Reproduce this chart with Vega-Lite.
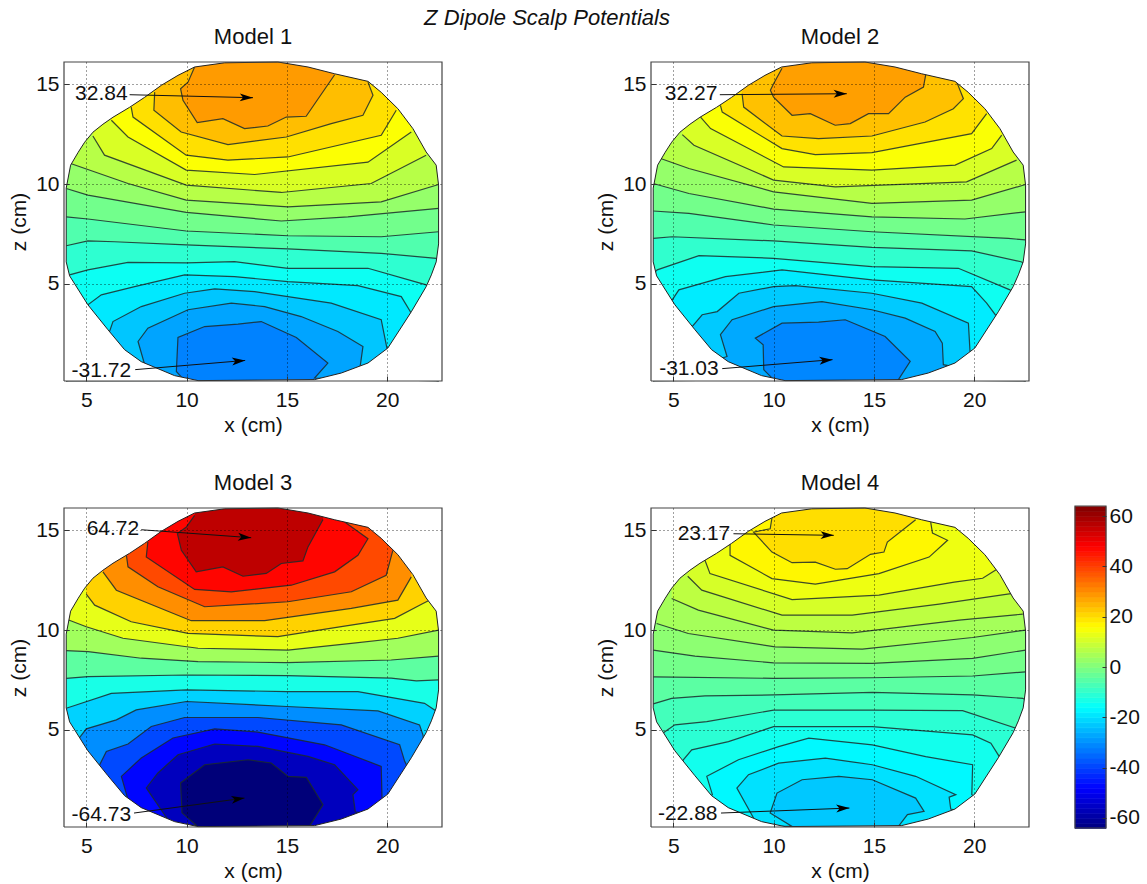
{"$schema":"https://vega.github.io/schema/vega-lite/v6.json","background":"white","padding":{"left":8,"top":6,"right":5,"bottom":5},"config":{"font":"Liberation Sans","view":{"stroke":null},"axis":{"labelFontSize":21,"labelColor":"#111","titleFontSize":21,"titleFontWeight":"normal","titleColor":"#111","domain":false,"labelFont":"Liberation Sans","titleFont":"Liberation Sans"}},"title":{"text":"Z Dipole Scalp Potentials","fontStyle":"italic","fontWeight":"normal","fontSize":22,"color":"#111","anchor":"middle","dx":-27,"dy":4,"offset":0},"datasets":{"bar":[{"v":-63},{"v":-61},{"v":-59},{"v":-57},{"v":-55},{"v":-53},{"v":-51},{"v":-49},{"v":-47},{"v":-45},{"v":-43},{"v":-41},{"v":-39},{"v":-37},{"v":-35},{"v":-33},{"v":-31},{"v":-29},{"v":-27},{"v":-25},{"v":-23},{"v":-21},{"v":-19},{"v":-17},{"v":-15},{"v":-13},{"v":-11},{"v":-9},{"v":-7},{"v":-5},{"v":-3},{"v":-1},{"v":1},{"v":3},{"v":5},{"v":7},{"v":9},{"v":11},{"v":13},{"v":15},{"v":17},{"v":19},{"v":21},{"v":23},{"v":25},{"v":27},{"v":29},{"v":31},{"v":33},{"v":35},{"v":37},{"v":39},{"v":41},{"v":43},{"v":45},{"v":47},{"v":49},{"v":51},{"v":53},{"v":55},{"v":57},{"v":59},{"v":61},{"v":63}],"maps":[
{"model":1,"band":0,"v":-31.7,"x":4,"z":0.13},{"model":1,"band":0,"v":-31.7,"x":22.56,"z":0.13},
{"model":1,"band":1,"v":-27.4,"x":4,"z":0.13},{"model":1,"band":1,"v":-27.4,"x":9.9,"z":0.15},{"model":1,"band":1,"v":-27.4,"x":9.49,"z":0.61},{"model":1,"band":1,"v":-27.4,"x":9.57,"z":2.31},{"model":1,"band":1,"v":-27.4,"x":10.9,"z":2.86},{"model":1,"band":1,"v":-27.4,"x":12.56,"z":2.98},{"model":1,"band":1,"v":-27.4,"x":13.72,"z":3.11},{"model":1,"band":1,"v":-27.4,"x":15.47,"z":2.31},{"model":1,"band":1,"v":-27.4,"x":17.04,"z":1.03},{"model":1,"band":1,"v":-27.4,"x":16.38,"z":0.28},{"model":1,"band":1,"v":-27.4,"x":22.56,"z":0.13},
{"model":1,"band":2,"v":-23.1,"x":4,"z":0.13},{"model":1,"band":2,"v":-23.1,"x":7.91,"z":0.95},{"model":1,"band":2,"v":-23.1,"x":7.58,"z":2.11},{"model":1,"band":2,"v":-23.1,"x":8.07,"z":2.78},{"model":1,"band":2,"v":-23.1,"x":10.07,"z":3.7},{"model":1,"band":2,"v":-23.1,"x":12.23,"z":4.03},{"model":1,"band":2,"v":-23.1,"x":13.89,"z":3.86},{"model":1,"band":2,"v":-23.1,"x":15.71,"z":3.36},{"model":1,"band":2,"v":-23.1,"x":17.54,"z":2.61},{"model":1,"band":2,"v":-23.1,"x":18.79,"z":1.86},{"model":1,"band":2,"v":-23.1,"x":18.65,"z":0.85},{"model":1,"band":2,"v":-23.1,"x":22.56,"z":0.13},
{"model":1,"band":3,"v":-18.8,"x":4,"z":0.13},{"model":1,"band":3,"v":-18.8,"x":6.16,"z":2.61},{"model":1,"band":3,"v":-18.8,"x":6.33,"z":3.11},{"model":1,"band":3,"v":-18.8,"x":7.74,"z":3.86},{"model":1,"band":3,"v":-18.8,"x":9.9,"z":4.53},{"model":1,"band":3,"v":-18.8,"x":11.4,"z":4.75},{"model":1,"band":3,"v":-18.8,"x":13.39,"z":4.61},{"model":1,"band":3,"v":-18.8,"x":15.05,"z":4.36},{"model":1,"band":3,"v":-18.8,"x":17.21,"z":4.03},{"model":1,"band":3,"v":-18.8,"x":19.7,"z":3.2},{"model":1,"band":3,"v":-18.8,"x":20,"z":1.7},{"model":1,"band":3,"v":-18.8,"x":22.56,"z":0.13},
{"model":1,"band":4,"v":-14.5,"x":4,"z":0.13},{"model":1,"band":4,"v":-14.5,"x":5.08,"z":3.95},{"model":1,"band":4,"v":-14.5,"x":5.75,"z":4.45},{"model":1,"band":4,"v":-14.5,"x":7.41,"z":4.86},{"model":1,"band":4,"v":-14.5,"x":9.9,"z":5.45},{"model":1,"band":4,"v":-14.5,"x":12.39,"z":5.36},{"model":1,"band":4,"v":-14.5,"x":15.05,"z":5.11},{"model":1,"band":4,"v":-14.5,"x":18.54,"z":4.91},{"model":1,"band":4,"v":-14.5,"x":20.7,"z":4.36},{"model":1,"band":4,"v":-14.5,"x":21.2,"z":3.53},{"model":1,"band":4,"v":-14.5,"x":22.56,"z":0.13},
{"model":1,"band":5,"v":-10.2,"x":4,"z":5.3},{"model":1,"band":5,"v":-10.2,"x":4.17,"z":5.45},{"model":1,"band":5,"v":-10.2,"x":5.08,"z":5.7},{"model":1,"band":5,"v":-10.2,"x":7.08,"z":6.08},{"model":1,"band":5,"v":-10.2,"x":10,"z":6.05},{"model":1,"band":5,"v":-10.2,"x":12.39,"z":6.11},{"model":1,"band":5,"v":-10.2,"x":15.05,"z":5.78},{"model":1,"band":5,"v":-10.2,"x":19.04,"z":5.78},{"model":1,"band":5,"v":-10.2,"x":21.94,"z":4.95},{"model":1,"band":5,"v":-10.2,"x":22.56,"z":4},
{"model":1,"band":6,"v":-5.9,"x":4,"z":6.91},{"model":1,"band":6,"v":-5.9,"x":5.08,"z":7.15},{"model":1,"band":6,"v":-5.9,"x":6.41,"z":7.11},{"model":1,"band":6,"v":-5.9,"x":9.98,"z":6.95},{"model":1,"band":6,"v":-5.9,"x":15.05,"z":6.75},{"model":1,"band":6,"v":-5.9,"x":19.7,"z":6.53},{"model":1,"band":6,"v":-5.9,"x":22.44,"z":6.28},{"model":1,"band":6,"v":-5.9,"x":22.56,"z":6.2},
{"model":1,"band":7,"v":-1.6,"x":4,"z":8.36},{"model":1,"band":7,"v":-1.6,"x":5.08,"z":8.25},{"model":1,"band":7,"v":-1.6,"x":9.98,"z":7.65},{"model":1,"band":7,"v":-1.6,"x":15.05,"z":7.41},{"model":1,"band":7,"v":-1.6,"x":19.7,"z":7.36},{"model":1,"band":7,"v":-1.6,"x":22.56,"z":7.61},
{"model":1,"band":8,"v":2.7,"x":4,"z":9.78},{"model":1,"band":8,"v":2.7,"x":5.08,"z":9.45},{"model":1,"band":8,"v":2.7,"x":9.98,"z":8.58},{"model":1,"band":8,"v":2.7,"x":14.72,"z":8.15},{"model":1,"band":8,"v":2.7,"x":18.04,"z":8.36},{"model":1,"band":8,"v":2.7,"x":22.56,"z":8.78},
{"model":1,"band":9,"v":7,"x":4.22,"z":11.03},{"model":1,"band":9,"v":7,"x":7.08,"z":10.03},{"model":1,"band":9,"v":7,"x":9.98,"z":9.2},{"model":1,"band":9,"v":7,"x":15.05,"z":8.86},{"model":1,"band":9,"v":7,"x":19.7,"z":9.11},{"model":1,"band":9,"v":7,"x":22.56,"z":9.98},
{"model":1,"band":10,"v":11.3,"x":5.33,"z":12.41},{"model":1,"band":10,"v":11.3,"x":5.91,"z":11.45},{"model":1,"band":10,"v":11.3,"x":9.98,"z":9.95},{"model":1,"band":10,"v":11.3,"x":14.72,"z":9.58},{"model":1,"band":10,"v":11.3,"x":19.2,"z":10.03},{"model":1,"band":10,"v":11.3,"x":21.94,"z":11.45},
{"model":1,"band":11,"v":15.6,"x":6.25,"z":13.2},{"model":1,"band":11,"v":15.6,"x":7.08,"z":12.36},{"model":1,"band":11,"v":15.6,"x":9.98,"z":10.7},{"model":1,"band":11,"v":15.6,"x":13.39,"z":10.48},{"model":1,"band":11,"v":15.6,"x":19.04,"z":11.1},{"model":1,"band":11,"v":15.6,"x":21.2,"z":12.61},
{"model":1,"band":12,"v":19.9,"x":7.24,"z":13.86},{"model":1,"band":12,"v":19.9,"x":7.33,"z":13.36},{"model":1,"band":12,"v":19.9,"x":9.98,"z":11.45},{"model":1,"band":12,"v":19.9,"x":12.06,"z":11.2},{"model":1,"band":12,"v":19.9,"x":15.05,"z":11.36},{"model":1,"band":12,"v":19.9,"x":19.7,"z":12.45},{"model":1,"band":12,"v":19.9,"x":20.45,"z":13.7},
{"model":1,"band":13,"v":24.2,"x":8.41,"z":14.61},{"model":1,"band":13,"v":24.2,"x":8.37,"z":13.7},{"model":1,"band":13,"v":24.2,"x":9.73,"z":12.61},{"model":1,"band":13,"v":24.2,"x":12.06,"z":11.98},{"model":1,"band":13,"v":24.2,"x":14.97,"z":12.36},{"model":1,"band":13,"v":24.2,"x":17.21,"z":13.03},{"model":1,"band":13,"v":24.2,"x":18.79,"z":13.45},{"model":1,"band":13,"v":24.2,"x":19.29,"z":14.45},{"model":1,"band":13,"v":24.2,"x":19.04,"z":15.11},
{"model":1,"band":14,"v":28.5,"x":10.4,"z":15.87},{"model":1,"band":14,"v":28.5,"x":10.07,"z":15.11},{"model":1,"band":14,"v":28.5,"x":9.7,"z":14.78},{"model":1,"band":14,"v":28.5,"x":9.82,"z":14.2},{"model":1,"band":14,"v":28.5,"x":10.53,"z":13.08},{"model":1,"band":14,"v":28.5,"x":11.81,"z":13.28},{"model":1,"band":14,"v":28.5,"x":12.89,"z":12.78},{"model":1,"band":14,"v":28.5,"x":14.05,"z":12.91},{"model":1,"band":14,"v":28.5,"x":14.97,"z":13.36},{"model":1,"band":14,"v":28.5,"x":15.96,"z":13.4},{"model":1,"band":14,"v":28.5,"x":17.38,"z":15.48},
{"model":2,"band":0,"v":-31,"x":4,"z":0.13},{"model":2,"band":0,"v":-31,"x":22.56,"z":0.13},
{"model":2,"band":1,"v":-26.8,"x":4,"z":0.13},{"model":2,"band":1,"v":-26.8,"x":10,"z":0.2},{"model":2,"band":1,"v":-26.8,"x":9.51,"z":0.7},{"model":2,"band":1,"v":-26.8,"x":9.48,"z":1.95},{"model":2,"band":1,"v":-26.8,"x":9.09,"z":2.28},{"model":2,"band":1,"v":-26.8,"x":10.42,"z":3.03},{"model":2,"band":1,"v":-26.8,"x":12.24,"z":3.08},{"model":2,"band":1,"v":-26.8,"x":13.57,"z":3.2},{"model":2,"band":1,"v":-26.8,"x":15.56,"z":2.36},{"model":2,"band":1,"v":-26.8,"x":16.81,"z":1.11},{"model":2,"band":1,"v":-26.8,"x":16.22,"z":0.2},{"model":2,"band":1,"v":-26.8,"x":22.56,"z":0.13},
{"model":2,"band":2,"v":-22.6,"x":4,"z":0.13},{"model":2,"band":2,"v":-22.6,"x":7.68,"z":1.36},{"model":2,"band":2,"v":-22.6,"x":7.35,"z":2.45},{"model":2,"band":2,"v":-22.6,"x":7.93,"z":3.2},{"model":2,"band":2,"v":-22.6,"x":10,"z":3.86},{"model":2,"band":2,"v":-22.6,"x":12.41,"z":4.11},{"model":2,"band":2,"v":-22.6,"x":14.9,"z":3.7},{"model":2,"band":2,"v":-22.6,"x":16.56,"z":3.28},{"model":2,"band":2,"v":-22.6,"x":18.05,"z":2.61},{"model":2,"band":2,"v":-22.6,"x":18.41,"z":2.03},{"model":2,"band":2,"v":-22.6,"x":18.46,"z":0.95},{"model":2,"band":2,"v":-22.6,"x":22.56,"z":0.13},
{"model":2,"band":3,"v":-18.4,"x":4,"z":0.13},{"model":2,"band":3,"v":-18.4,"x":5.94,"z":2.86},{"model":2,"band":3,"v":-18.4,"x":6.44,"z":3.45},{"model":2,"band":3,"v":-18.4,"x":7.19,"z":3.61},{"model":2,"band":3,"v":-18.4,"x":8.27,"z":4.53},{"model":2,"band":3,"v":-18.4,"x":10,"z":4.86},{"model":2,"band":3,"v":-18.4,"x":11.08,"z":4.91},{"model":2,"band":3,"v":-18.4,"x":14.9,"z":4.53},{"model":2,"band":3,"v":-18.4,"x":17.39,"z":4.03},{"model":2,"band":3,"v":-18.4,"x":19.71,"z":3.03},{"model":2,"band":3,"v":-18.4,"x":19.79,"z":1.61},{"model":2,"band":3,"v":-18.4,"x":22.56,"z":0.13},
{"model":2,"band":4,"v":-14.2,"x":4,"z":0.13},{"model":2,"band":4,"v":-14.2,"x":4.95,"z":4.2},{"model":2,"band":4,"v":-14.2,"x":5.28,"z":4.7},{"model":2,"band":4,"v":-14.2,"x":7.6,"z":5.36},{"model":2,"band":4,"v":-14.2,"x":10.42,"z":5.7},{"model":2,"band":4,"v":-14.2,"x":14.9,"z":5.2},{"model":2,"band":4,"v":-14.2,"x":19.87,"z":4.86},{"model":2,"band":4,"v":-14.2,"x":20.62,"z":4.03},{"model":2,"band":4,"v":-14.2,"x":21.12,"z":3.36},{"model":2,"band":4,"v":-14.2,"x":22.56,"z":0.13},
{"model":2,"band":5,"v":-9.9,"x":4,"z":5.5},{"model":2,"band":5,"v":-9.9,"x":4.2,"z":5.7},{"model":2,"band":5,"v":-9.9,"x":6.28,"z":6.41},{"model":2,"band":5,"v":-9.9,"x":10,"z":6.28},{"model":2,"band":5,"v":-9.9,"x":14.9,"z":5.86},{"model":2,"band":5,"v":-9.9,"x":19.21,"z":5.78},{"model":2,"band":5,"v":-9.9,"x":21.78,"z":4.7},{"model":2,"band":5,"v":-9.9,"x":22.56,"z":4},
{"model":2,"band":6,"v":-5.7,"x":4,"z":7.28},{"model":2,"band":6,"v":-5.7,"x":4.95,"z":7.36},{"model":2,"band":6,"v":-5.7,"x":10,"z":7.15},{"model":2,"band":6,"v":-5.7,"x":14.9,"z":6.83},{"model":2,"band":6,"v":-5.7,"x":19.87,"z":6.65},{"model":2,"band":6,"v":-5.7,"x":22.33,"z":6.11},{"model":2,"band":6,"v":-5.7,"x":22.56,"z":6},
{"model":2,"band":7,"v":-1.5,"x":4,"z":8.65},{"model":2,"band":7,"v":-1.5,"x":5.78,"z":8.53},{"model":2,"band":7,"v":-1.5,"x":10,"z":7.95},{"model":2,"band":7,"v":-1.5,"x":14.9,"z":7.61},{"model":2,"band":7,"v":-1.5,"x":21.7,"z":7.28},{"model":2,"band":7,"v":-1.5,"x":22.56,"z":7.2},
{"model":2,"band":8,"v":2.7,"x":4,"z":10.03},{"model":2,"band":8,"v":2.7,"x":5.78,"z":9.53},{"model":2,"band":8,"v":2.7,"x":10,"z":8.75},{"model":2,"band":8,"v":2.7,"x":14.9,"z":8.36},{"model":2,"band":8,"v":2.7,"x":19.54,"z":8.25},{"model":2,"band":8,"v":2.7,"x":22.56,"z":8.61},
{"model":2,"band":9,"v":7,"x":4.37,"z":11.28},{"model":2,"band":9,"v":7,"x":5.78,"z":10.78},{"model":2,"band":9,"v":7,"x":10,"z":9.61},{"model":2,"band":9,"v":7,"x":14.9,"z":9.03},{"model":2,"band":9,"v":7,"x":19.87,"z":9.2},{"model":2,"band":9,"v":7,"x":22.56,"z":9.98},
{"model":2,"band":10,"v":11.2,"x":5.45,"z":12.48},{"model":2,"band":10,"v":11.2,"x":6.03,"z":11.95},{"model":2,"band":10,"v":11.2,"x":10,"z":10.2},{"model":2,"band":10,"v":11.2,"x":13.07,"z":9.86},{"model":2,"band":10,"v":11.2,"x":19.62,"z":10.11},{"model":2,"band":10,"v":11.2,"x":22.11,"z":11.2},
{"model":2,"band":11,"v":15.4,"x":6.36,"z":13.36},{"model":2,"band":11,"v":15.4,"x":6.86,"z":12.78},{"model":2,"band":11,"v":15.4,"x":10.5,"z":10.86},{"model":2,"band":11,"v":15.4,"x":14.9,"z":10.7},{"model":2,"band":11,"v":15.4,"x":19.05,"z":10.95},{"model":2,"band":11,"v":15.4,"x":20.87,"z":11.78},{"model":2,"band":11,"v":15.4,"x":21.37,"z":12.45},
{"model":2,"band":12,"v":19.6,"x":7.35,"z":13.95},{"model":2,"band":12,"v":19.6,"x":7.44,"z":13.61},{"model":2,"band":12,"v":19.6,"x":10.42,"z":11.78},{"model":2,"band":12,"v":19.6,"x":12.08,"z":11.48},{"model":2,"band":12,"v":19.6,"x":14.9,"z":11.58},{"model":2,"band":12,"v":19.6,"x":19.87,"z":12.53},{"model":2,"band":12,"v":19.6,"x":20.62,"z":13.53},
{"model":2,"band":13,"v":23.8,"x":8.43,"z":14.53},{"model":2,"band":13,"v":23.8,"x":8.51,"z":13.86},{"model":2,"band":13,"v":23.8,"x":10.42,"z":12.41},{"model":2,"band":13,"v":23.8,"x":12.24,"z":12.28},{"model":2,"band":13,"v":23.8,"x":14.9,"z":12.41},{"model":2,"band":13,"v":23.8,"x":17.55,"z":13.11},{"model":2,"band":13,"v":23.8,"x":18.96,"z":13.78},{"model":2,"band":13,"v":23.8,"x":19.46,"z":14.28},{"model":2,"band":13,"v":23.8,"x":19.13,"z":15.11},
{"model":2,"band":14,"v":28.1,"x":10.42,"z":15.81},{"model":2,"band":14,"v":28.1,"x":10,"z":15.03},{"model":2,"band":14,"v":28.1,"x":9.84,"z":14.7},{"model":2,"band":14,"v":28.1,"x":10,"z":14.36},{"model":2,"band":14,"v":28.1,"x":10.92,"z":13.45},{"model":2,"band":14,"v":28.1,"x":11.83,"z":13.53},{"model":2,"band":14,"v":28.1,"x":13.07,"z":12.95},{"model":2,"band":14,"v":28.1,"x":13.82,"z":13.03},{"model":2,"band":14,"v":28.1,"x":14.73,"z":13.53},{"model":2,"band":14,"v":28.1,"x":15.73,"z":13.53},{"model":2,"band":14,"v":28.1,"x":16.56,"z":14.36},{"model":2,"band":14,"v":28.1,"x":17.47,"z":14.86},{"model":2,"band":14,"v":28.1,"x":17.59,"z":15.53},
{"model":3,"band":0,"v":-64.7,"x":4,"z":0.16},{"model":3,"band":0,"v":-64.7,"x":22.56,"z":0.16},
{"model":3,"band":1,"v":-56.1,"x":4,"z":0.16},{"model":3,"band":1,"v":-56.1,"x":10.48,"z":0.22},{"model":3,"band":1,"v":-56.1,"x":9.77,"z":0.84},{"model":3,"band":1,"v":-56.1,"x":9.7,"z":2.34},{"model":3,"band":1,"v":-56.1,"x":10.9,"z":3.25},{"model":3,"band":1,"v":-56.1,"x":13.06,"z":3.5},{"model":3,"band":1,"v":-56.1,"x":14.22,"z":3.34},{"model":3,"band":1,"v":-56.1,"x":15.05,"z":2.67},{"model":3,"band":1,"v":-56.1,"x":15.97,"z":2.62},{"model":3,"band":1,"v":-56.1,"x":16.8,"z":1.25},{"model":3,"band":1,"v":-56.1,"x":16.13,"z":0.17},{"model":3,"band":1,"v":-56.1,"x":22.56,"z":0.16},
{"model":3,"band":2,"v":-47.4,"x":4,"z":0.16},{"model":3,"band":2,"v":-47.4,"x":9.07,"z":0.5},{"model":3,"band":2,"v":-47.4,"x":7.99,"z":2.09},{"model":3,"band":2,"v":-47.4,"x":8.57,"z":2.84},{"model":3,"band":2,"v":-47.4,"x":9.57,"z":3.75},{"model":3,"band":2,"v":-47.4,"x":11.4,"z":4.29},{"model":3,"band":2,"v":-47.4,"x":13.56,"z":4.17},{"model":3,"band":2,"v":-47.4,"x":16.05,"z":3.67},{"model":3,"band":2,"v":-47.4,"x":17.38,"z":3.25},{"model":3,"band":2,"v":-47.4,"x":18.54,"z":2},{"model":3,"band":2,"v":-47.4,"x":18.29,"z":1.75},{"model":3,"band":2,"v":-47.4,"x":18.41,"z":0.89},{"model":3,"band":2,"v":-47.4,"x":22.56,"z":0.16},
{"model":3,"band":3,"v":-38.8,"x":4,"z":0.16},{"model":3,"band":3,"v":-38.8,"x":7.08,"z":1.5},{"model":3,"band":3,"v":-38.8,"x":6.75,"z":2.67},{"model":3,"band":3,"v":-38.8,"x":7.74,"z":3.59},{"model":3,"band":3,"v":-38.8,"x":9.32,"z":4.59},{"model":3,"band":3,"v":-38.8,"x":11.4,"z":5.05},{"model":3,"band":3,"v":-38.8,"x":13.56,"z":4.89},{"model":3,"band":3,"v":-38.8,"x":16.88,"z":4.25},{"model":3,"band":3,"v":-38.8,"x":19.7,"z":3.17},{"model":3,"band":3,"v":-38.8,"x":19.74,"z":1.59},{"model":3,"band":3,"v":-38.8,"x":22.56,"z":0.16},
{"model":3,"band":4,"v":-30.2,"x":4,"z":0.16},{"model":3,"band":4,"v":-30.2,"x":5.67,"z":3.25},{"model":3,"band":4,"v":-30.2,"x":6,"z":3.92},{"model":3,"band":4,"v":-30.2,"x":7.08,"z":4.29},{"model":3,"band":4,"v":-30.2,"x":8.24,"z":5.17},{"model":3,"band":4,"v":-30.2,"x":9.9,"z":5.62},{"model":3,"band":4,"v":-30.2,"x":13.56,"z":5.62},{"model":3,"band":4,"v":-30.2,"x":17.71,"z":5.25},{"model":3,"band":4,"v":-30.2,"x":20.62,"z":4.25},{"model":3,"band":4,"v":-30.2,"x":20.87,"z":3.42},{"model":3,"band":4,"v":-30.2,"x":22.56,"z":0.16},
{"model":3,"band":5,"v":-21.6,"x":4,"z":0.16},{"model":3,"band":5,"v":-21.6,"x":4.67,"z":4.62},{"model":3,"band":5,"v":-21.6,"x":5,"z":5.05},{"model":3,"band":5,"v":-21.6,"x":6.5,"z":5.5},{"model":3,"band":5,"v":-21.6,"x":7.49,"z":6},{"model":3,"band":5,"v":-21.6,"x":9.99,"z":6.42},{"model":3,"band":5,"v":-21.6,"x":15,"z":6.17},{"model":3,"band":5,"v":-21.6,"x":19.54,"z":5.95},{"model":3,"band":5,"v":-21.6,"x":21.61,"z":5.25},{"model":3,"band":5,"v":-21.6,"x":21.78,"z":4.75},{"model":3,"band":5,"v":-21.6,"x":22.56,"z":0.16},
{"model":3,"band":6,"v":-13,"x":4,"z":6.08},{"model":3,"band":6,"v":-13,"x":4.42,"z":6.22},{"model":3,"band":6,"v":-13,"x":6.25,"z":6.83},{"model":3,"band":6,"v":-13,"x":9.99,"z":7},{"model":3,"band":6,"v":-13,"x":15,"z":6.92},{"model":3,"band":6,"v":-13,"x":18.54,"z":6.92},{"model":3,"band":6,"v":-13,"x":21.86,"z":6.33},{"model":3,"band":6,"v":-13,"x":22.36,"z":6},{"model":3,"band":6,"v":-13,"x":22.56,"z":5.8},
{"model":3,"band":7,"v":-4.3,"x":4,"z":7.58},{"model":3,"band":7,"v":-4.3,"x":5.09,"z":7.67},{"model":3,"band":7,"v":-4.3,"x":9.99,"z":7.75},{"model":3,"band":7,"v":-4.3,"x":15,"z":7.72},{"model":3,"band":7,"v":-4.3,"x":20.2,"z":7.59},{"model":3,"band":7,"v":-4.3,"x":21.45,"z":7.45},{"model":3,"band":7,"v":-4.3,"x":22.56,"z":7.5},
{"model":3,"band":8,"v":4.3,"x":4,"z":8.97},{"model":3,"band":8,"v":4.3,"x":5.09,"z":8.92},{"model":3,"band":8,"v":4.3,"x":7.74,"z":8.59},{"model":3,"band":8,"v":4.3,"x":10.57,"z":8.42},{"model":3,"band":8,"v":4.3,"x":15,"z":8.37},{"model":3,"band":8,"v":4.3,"x":20.2,"z":8.5},{"model":3,"band":8,"v":4.3,"x":22.56,"z":8.7},
{"model":3,"band":9,"v":13,"x":4,"z":10.55},{"model":3,"band":9,"v":13,"x":4.22,"z":10.47},{"model":3,"band":9,"v":13,"x":5,"z":10.17},{"model":3,"band":9,"v":13,"x":6.83,"z":9.59},{"model":3,"band":9,"v":13,"x":10.57,"z":9.09},{"model":3,"band":9,"v":13,"x":15.05,"z":9},{"model":3,"band":9,"v":13,"x":18.21,"z":9.33},{"model":3,"band":9,"v":13,"x":20.53,"z":9.59},{"model":3,"band":9,"v":13,"x":22.56,"z":10},
{"model":3,"band":10,"v":21.6,"x":5,"z":11.8},{"model":3,"band":10,"v":21.6,"x":5.42,"z":11.25},{"model":3,"band":10,"v":21.6,"x":7.24,"z":10.42},{"model":3,"band":10,"v":21.6,"x":10.07,"z":9.84},{"model":3,"band":10,"v":21.6,"x":14.55,"z":9.67},{"model":3,"band":10,"v":21.6,"x":17.71,"z":10.17},{"model":3,"band":10,"v":21.6,"x":20.37,"z":10.59},{"model":3,"band":10,"v":21.6,"x":21.78,"z":11.33},{"model":3,"band":10,"v":21.6,"x":22.1,"z":11.5},
{"model":3,"band":11,"v":30.2,"x":5.83,"z":12.92},{"model":3,"band":11,"v":30.2,"x":6.5,"z":12},{"model":3,"band":11,"v":30.2,"x":10.23,"z":10.47},{"model":3,"band":11,"v":30.2,"x":13.89,"z":10.47},{"model":3,"band":11,"v":30.2,"x":18.21,"z":11.09},{"model":3,"band":11,"v":30.2,"x":20.53,"z":11.5},{"model":3,"band":11,"v":30.2,"x":21.2,"z":12.67},
{"model":3,"band":12,"v":38.8,"x":7,"z":13.75},{"model":3,"band":12,"v":38.8,"x":7.08,"z":13.17},{"model":3,"band":12,"v":38.8,"x":8.57,"z":12.17},{"model":3,"band":12,"v":38.8,"x":10.9,"z":11.17},{"model":3,"band":12,"v":38.8,"x":15.05,"z":11.42},{"model":3,"band":12,"v":38.8,"x":18.21,"z":11.92},{"model":3,"band":12,"v":38.8,"x":19.95,"z":12.75},{"model":3,"band":12,"v":38.8,"x":20.28,"z":14},
{"model":3,"band":13,"v":47.4,"x":8.07,"z":14.42},{"model":3,"band":13,"v":47.4,"x":7.99,"z":13.67},{"model":3,"band":13,"v":47.4,"x":10.4,"z":12.04},{"model":3,"band":13,"v":47.4,"x":12.23,"z":11.92},{"model":3,"band":13,"v":47.4,"x":15.22,"z":12.25},{"model":3,"band":13,"v":47.4,"x":17.38,"z":12.92},{"model":3,"band":13,"v":47.4,"x":18.54,"z":13.75},{"model":3,"band":13,"v":47.4,"x":19.04,"z":14.58},{"model":3,"band":13,"v":47.4,"x":17.88,"z":15.42},
{"model":3,"band":14,"v":56.1,"x":10.4,"z":15.75},{"model":3,"band":14,"v":56.1,"x":9.99,"z":15.17},{"model":3,"band":14,"v":56.1,"x":9.54,"z":14.84},{"model":3,"band":14,"v":56.1,"x":9.74,"z":14},{"model":3,"band":14,"v":56.1,"x":10.48,"z":12.92},{"model":3,"band":14,"v":56.1,"x":11.81,"z":13.17},{"model":3,"band":14,"v":56.1,"x":12.81,"z":12.7},{"model":3,"band":14,"v":56.1,"x":13.97,"z":12.84},{"model":3,"band":14,"v":56.1,"x":14.72,"z":13.34},{"model":3,"band":14,"v":56.1,"x":15.8,"z":13.47},{"model":3,"band":14,"v":56.1,"x":16.05,"z":14.17},{"model":3,"band":14,"v":56.1,"x":16.8,"z":15.54},
{"model":4,"band":0,"v":-22.9,"x":4,"z":0.16},{"model":4,"band":0,"v":-22.9,"x":22.56,"z":0.16},
{"model":4,"band":1,"v":-19.8,"x":4,"z":0.16},{"model":4,"band":1,"v":-19.8,"x":10.92,"z":0.16},{"model":4,"band":1,"v":-19.8,"x":9.83,"z":0.83},{"model":4,"band":1,"v":-19.8,"x":10.17,"z":1.83},{"model":4,"band":1,"v":-19.8,"x":11.42,"z":2.5},{"model":4,"band":1,"v":-19.8,"x":13.25,"z":2.67},{"model":4,"band":1,"v":-19.8,"x":14.92,"z":2.5},{"model":4,"band":1,"v":-19.8,"x":17.08,"z":1.58},{"model":4,"band":1,"v":-19.8,"x":17.5,"z":0.91},{"model":4,"band":1,"v":-19.8,"x":16.67,"z":0.75},{"model":4,"band":1,"v":-19.8,"x":16.25,"z":0.2},{"model":4,"band":1,"v":-19.8,"x":22.56,"z":0.16},
{"model":4,"band":2,"v":-16.7,"x":4,"z":0.16},{"model":4,"band":2,"v":-16.7,"x":9,"z":0.58},{"model":4,"band":2,"v":-16.7,"x":8.17,"z":2.08},{"model":4,"band":2,"v":-16.7,"x":8.75,"z":2.75},{"model":4,"band":2,"v":-16.7,"x":10.25,"z":3.33},{"model":4,"band":2,"v":-16.7,"x":12.58,"z":3.58},{"model":4,"band":2,"v":-16.7,"x":14.92,"z":3.25},{"model":4,"band":2,"v":-16.7,"x":17.08,"z":2.67},{"model":4,"band":2,"v":-16.7,"x":19.08,"z":1.75},{"model":4,"band":2,"v":-16.7,"x":18.75,"z":1.63},{"model":4,"band":2,"v":-16.7,"x":18.83,"z":1.03},{"model":4,"band":2,"v":-16.7,"x":22.56,"z":0.16},
{"model":4,"band":3,"v":-13.7,"x":4,"z":0.16},{"model":4,"band":3,"v":-13.7,"x":6.95,"z":1.75},{"model":4,"band":3,"v":-13.7,"x":6.67,"z":2.67},{"model":4,"band":3,"v":-13.7,"x":8.25,"z":3.5},{"model":4,"band":3,"v":-13.7,"x":10.25,"z":4.16},{"model":4,"band":3,"v":-13.7,"x":11.75,"z":4.58},{"model":4,"band":3,"v":-13.7,"x":14.92,"z":4.25},{"model":4,"band":3,"v":-13.7,"x":17.58,"z":3.66},{"model":4,"band":3,"v":-13.7,"x":19.92,"z":3.25},{"model":4,"band":3,"v":-13.7,"x":19.88,"z":1.75},{"model":4,"band":3,"v":-13.7,"x":22.56,"z":0.16},
{"model":4,"band":4,"v":-10.6,"x":4,"z":0.16},{"model":4,"band":4,"v":-10.6,"x":5.5,"z":3.5},{"model":4,"band":4,"v":-10.6,"x":5.92,"z":4},{"model":4,"band":4,"v":-10.6,"x":7.75,"z":4.41},{"model":4,"band":4,"v":-10.6,"x":10,"z":5.16},{"model":4,"band":4,"v":-10.6,"x":14.92,"z":5.16},{"model":4,"band":4,"v":-10.6,"x":19.92,"z":4.75},{"model":4,"band":4,"v":-10.6,"x":20.83,"z":4.33},{"model":4,"band":4,"v":-10.6,"x":21.25,"z":3.66},{"model":4,"band":4,"v":-10.6,"x":22.56,"z":0.16},
{"model":4,"band":5,"v":-7.5,"x":4,"z":4.3},{"model":4,"band":5,"v":-7.5,"x":4.58,"z":4.91},{"model":4,"band":5,"v":-7.5,"x":5.08,"z":5.25},{"model":4,"band":5,"v":-7.5,"x":6.67,"z":5.41},{"model":4,"band":5,"v":-7.5,"x":10,"z":5.99},{"model":4,"band":5,"v":-7.5,"x":14.92,"z":5.99},{"model":4,"band":5,"v":-7.5,"x":19.42,"z":5.96},{"model":4,"band":5,"v":-7.5,"x":22.08,"z":5.08},{"model":4,"band":5,"v":-7.5,"x":22.56,"z":4.5},
{"model":4,"band":6,"v":-4.5,"x":4,"z":6.3},{"model":4,"band":6,"v":-4.5,"x":4.92,"z":6.58},{"model":4,"band":6,"v":-4.5,"x":6.58,"z":6.7},{"model":4,"band":6,"v":-4.5,"x":10,"z":6.75},{"model":4,"band":6,"v":-4.5,"x":14.92,"z":6.88},{"model":4,"band":6,"v":-4.5,"x":19.92,"z":6.75},{"model":4,"band":6,"v":-4.5,"x":22.42,"z":6.58},{"model":4,"band":6,"v":-4.5,"x":22.56,"z":6.5},
{"model":4,"band":7,"v":-1.4,"x":4,"z":7.66},{"model":4,"band":7,"v":-1.4,"x":10,"z":7.58},{"model":4,"band":7,"v":-1.4,"x":14.92,"z":7.61},{"model":4,"band":7,"v":-1.4,"x":19.92,"z":7.7},{"model":4,"band":7,"v":-1.4,"x":22.56,"z":7.91},
{"model":4,"band":8,"v":1.7,"x":4,"z":9},{"model":4,"band":8,"v":1.7,"x":6.08,"z":8.7},{"model":4,"band":8,"v":1.7,"x":10,"z":8.36},{"model":4,"band":8,"v":1.7,"x":14.92,"z":8.33},{"model":4,"band":8,"v":1.7,"x":19.92,"z":8.58},{"model":4,"band":8,"v":1.7,"x":22.56,"z":9},
{"model":4,"band":9,"v":4.7,"x":4.17,"z":10.33},{"model":4,"band":9,"v":4.7,"x":5.75,"z":9.83},{"model":4,"band":9,"v":4.7,"x":10.08,"z":9.16},{"model":4,"band":9,"v":4.7,"x":14.42,"z":9.05},{"model":4,"band":9,"v":4.7,"x":19.92,"z":9.63},{"model":4,"band":9,"v":4.7,"x":22.56,"z":10},
{"model":4,"band":10,"v":7.8,"x":4.92,"z":11.58},{"model":4,"band":10,"v":7.8,"x":6.25,"z":11},{"model":4,"band":10,"v":7.8,"x":10,"z":10},{"model":4,"band":10,"v":7.8,"x":13.92,"z":9.86},{"model":4,"band":10,"v":7.8,"x":19.25,"z":10.5},{"model":4,"band":10,"v":7.8,"x":22.42,"z":10.8},
{"model":4,"band":11,"v":10.9,"x":5.72,"z":12.7},{"model":4,"band":11,"v":10.9,"x":6.42,"z":12},{"model":4,"band":11,"v":10.9,"x":10.42,"z":10.75},{"model":4,"band":11,"v":10.9,"x":13.92,"z":10.75},{"model":4,"band":11,"v":10.9,"x":18.25,"z":11.3},{"model":4,"band":11,"v":10.9,"x":21.83,"z":11.83},
{"model":4,"band":12,"v":13.9,"x":6.58,"z":13.5},{"model":4,"band":12,"v":13.9,"x":6.83,"z":12.83},{"model":4,"band":12,"v":13.9,"x":10.92,"z":11.53},{"model":4,"band":12,"v":13.9,"x":15.25,"z":11.75},{"model":4,"band":12,"v":13.9,"x":19,"z":12.4},{"model":4,"band":12,"v":13.9,"x":20.42,"z":12.6},{"model":4,"band":12,"v":13.9,"x":21.17,"z":13.08},
{"model":4,"band":13,"v":17,"x":7.83,"z":14.33},{"model":4,"band":13,"v":17,"x":7.83,"z":13.75},{"model":4,"band":13,"v":17,"x":9.92,"z":12.58},{"model":4,"band":13,"v":17,"x":12.08,"z":12.3},{"model":4,"band":13,"v":17,"x":15.25,"z":12.83},{"model":4,"band":13,"v":17,"x":17.75,"z":13.66},{"model":4,"band":13,"v":17,"x":18.67,"z":14.5},{"model":4,"band":13,"v":17,"x":17.92,"z":14.86},{"model":4,"band":13,"v":17,"x":17.83,"z":15.41},
{"model":4,"band":14,"v":20.1,"x":9.92,"z":15.63},{"model":4,"band":14,"v":20.1,"x":9.83,"z":15.08},{"model":4,"band":14,"v":20.1,"x":9,"z":14.91},{"model":4,"band":14,"v":20.1,"x":9.92,"z":13.91},{"model":4,"band":14,"v":20.1,"x":10.92,"z":13.38},{"model":4,"band":14,"v":20.1,"x":12.08,"z":13.41},{"model":4,"band":14,"v":20.1,"x":13.08,"z":13.05},{"model":4,"band":14,"v":20.1,"x":13.67,"z":13.08},{"model":4,"band":14,"v":20.1,"x":14.83,"z":13.8},{"model":4,"band":14,"v":20.1,"x":15.5,"z":13.91},{"model":4,"band":14,"v":20.1,"x":15.67,"z":14.41},{"model":4,"band":14,"v":20.1,"x":17.08,"z":15.53},
{"model":1,"band":-3,"x":3.89,"z":0.13},{"model":1,"band":-3,"x":3.89,"z":16.12},{"model":1,"band":-3,"x":22.73,"z":16.12},{"model":1,"band":-3,"x":22.73,"z":0.13},{"model":1,"band":-3,"x":3.89,"z":0.13},
{"model":2,"band":-3,"x":3.89,"z":0.13},{"model":2,"band":-3,"x":3.89,"z":16.12},{"model":2,"band":-3,"x":22.73,"z":16.12},{"model":2,"band":-3,"x":22.73,"z":0.13},{"model":2,"band":-3,"x":3.89,"z":0.13},
{"model":3,"band":-3,"x":3.89,"z":0.13},{"model":3,"band":-3,"x":3.89,"z":16.12},{"model":3,"band":-3,"x":22.73,"z":16.12},{"model":3,"band":-3,"x":22.73,"z":0.13},{"model":3,"band":-3,"x":3.89,"z":0.13},
{"model":4,"band":-3,"x":3.89,"z":0.13},{"model":4,"band":-3,"x":3.89,"z":16.12},{"model":4,"band":-3,"x":22.73,"z":16.12},{"model":4,"band":-3,"x":22.73,"z":0.13},{"model":4,"band":-3,"x":3.89,"z":0.13},
{"model":1,"band":-4,"label":"32.84","tx":5.75,"tz":14.5,"x0":7.16,"z0":14.48,"x1":13.31,"z1":14.33},{"model":1,"band":-4,"label":"-31.72","tx":5.75,"tz":0.65,"x0":7.44,"z0":0.7,"x1":12.92,"z1":1.16},
{"model":2,"band":-4,"label":"32.27","tx":5.89,"tz":14.5,"x0":7.32,"z0":14.48,"x1":13.65,"z1":14.53},{"model":2,"band":-4,"label":"-31.03","tx":5.78,"tz":0.75,"x0":7.44,"z0":0.75,"x1":12.94,"z1":1.2},
{"model":3,"band":-4,"label":"64.72","tx":6.33,"tz":15.05,"x0":7.74,"z0":15.03,"x1":13.22,"z1":14.63},{"model":3,"band":-4,"label":"-64.73","tx":5.75,"tz":0.75,"x0":7.38,"z0":0.83,"x1":12.89,"z1":1.58},
{"model":4,"band":-4,"label":"23.17","tx":6.53,"tz":14.83,"x0":8,"z0":14.83,"x1":13,"z1":14.75},{"model":4,"band":-4,"label":"-22.88","tx":5.72,"tz":0.8,"x0":7.38,"z0":0.83,"x1":13.78,"z1":1.08},
{"model":1,"band":-1,"x":3.89,"z":8},{"model":1,"band":-1,"x":4,"z":8},{"model":1,"band":-1,"x":4,"z":9.8},{"model":1,"band":-1,"x":4.22,"z":10.95},{"model":1,"band":-1,"x":4.6,"z":11.6},{"model":1,"band":-1,"x":4.92,"z":12.1},{"model":1,"band":-1,"x":5.33,"z":12.6},{"model":1,"band":-1,"x":5.83,"z":13},{"model":1,"band":-1,"x":6.33,"z":13.35},{"model":1,"band":-1,"x":7.16,"z":13.85},{"model":1,"band":-1,"x":7.91,"z":14.35},{"model":1,"band":-1,"x":8.74,"z":14.95},{"model":1,"band":-1,"x":9.57,"z":15.45},{"model":1,"band":-1,"x":10.4,"z":15.87},{"model":1,"band":-1,"x":11.9,"z":16.08},{"model":1,"band":-1,"x":14.55,"z":16.12},{"model":1,"band":-1,"x":16.05,"z":15.87},{"model":1,"band":-1,"x":17.38,"z":15.53},{"model":1,"band":-1,"x":19.04,"z":15.15},{"model":1,"band":-1,"x":19.7,"z":14.6},{"model":1,"band":-1,"x":20.53,"z":13.78},{"model":1,"band":-1,"x":21.28,"z":12.78},{"model":1,"band":-1,"x":21.94,"z":11.61},{"model":1,"band":-1,"x":22.44,"z":10.95},{"model":1,"band":-1,"x":22.56,"z":9.95},{"model":1,"band":-1,"x":22.56,"z":8},{"model":1,"band":-1,"x":22.73,"z":8},
{"model":1,"band":-2,"x":3.89,"z":8},{"model":1,"band":-2,"x":4,"z":8},{"model":1,"band":-2,"x":4,"z":6.1},{"model":1,"band":-2,"x":4.17,"z":5.4},{"model":1,"band":-2,"x":5.08,"z":3.95},{"model":1,"band":-2,"x":6.08,"z":2.7},{"model":1,"band":-2,"x":6.91,"z":1.7},{"model":1,"band":-2,"x":7.74,"z":1.1},{"model":1,"band":-2,"x":9.4,"z":0.4},{"model":1,"band":-2,"x":10.57,"z":0.15},{"model":1,"band":-2,"x":16.38,"z":0.2},{"model":1,"band":-2,"x":17.71,"z":0.53},{"model":1,"band":-2,"x":19.04,"z":1.03},{"model":1,"band":-2,"x":20.03,"z":1.78},{"model":1,"band":-2,"x":21.2,"z":3.6},{"model":1,"band":-2,"x":21.94,"z":4.86},{"model":1,"band":-2,"x":22.2,"z":5.45},{"model":1,"band":-2,"x":22.44,"z":6.1},{"model":1,"band":-2,"x":22.56,"z":7},{"model":1,"band":-2,"x":22.56,"z":8},{"model":1,"band":-2,"x":22.73,"z":8},
{"model":2,"band":-1,"x":3.89,"z":8},{"model":2,"band":-1,"x":4,"z":8},{"model":2,"band":-1,"x":4,"z":9.8},{"model":2,"band":-1,"x":4.22,"z":10.95},{"model":2,"band":-1,"x":4.6,"z":11.6},{"model":2,"band":-1,"x":4.92,"z":12.1},{"model":2,"band":-1,"x":5.33,"z":12.6},{"model":2,"band":-1,"x":5.83,"z":13},{"model":2,"band":-1,"x":6.33,"z":13.35},{"model":2,"band":-1,"x":7.16,"z":13.85},{"model":2,"band":-1,"x":7.91,"z":14.35},{"model":2,"band":-1,"x":8.74,"z":14.95},{"model":2,"band":-1,"x":9.57,"z":15.45},{"model":2,"band":-1,"x":10.4,"z":15.87},{"model":2,"band":-1,"x":11.9,"z":16.08},{"model":2,"band":-1,"x":14.55,"z":16.12},{"model":2,"band":-1,"x":16.05,"z":15.87},{"model":2,"band":-1,"x":17.38,"z":15.53},{"model":2,"band":-1,"x":19.04,"z":15.15},{"model":2,"band":-1,"x":19.7,"z":14.6},{"model":2,"band":-1,"x":20.53,"z":13.78},{"model":2,"band":-1,"x":21.28,"z":12.78},{"model":2,"band":-1,"x":21.94,"z":11.61},{"model":2,"band":-1,"x":22.44,"z":10.95},{"model":2,"band":-1,"x":22.56,"z":9.95},{"model":2,"band":-1,"x":22.56,"z":8},{"model":2,"band":-1,"x":22.73,"z":8},
{"model":2,"band":-2,"x":3.89,"z":8},{"model":2,"band":-2,"x":4,"z":8},{"model":2,"band":-2,"x":4,"z":6.1},{"model":2,"band":-2,"x":4.17,"z":5.4},{"model":2,"band":-2,"x":5.08,"z":3.95},{"model":2,"band":-2,"x":6.08,"z":2.7},{"model":2,"band":-2,"x":6.91,"z":1.7},{"model":2,"band":-2,"x":7.74,"z":1.1},{"model":2,"band":-2,"x":9.4,"z":0.4},{"model":2,"band":-2,"x":10.57,"z":0.15},{"model":2,"band":-2,"x":16.38,"z":0.2},{"model":2,"band":-2,"x":17.71,"z":0.53},{"model":2,"band":-2,"x":19.04,"z":1.03},{"model":2,"band":-2,"x":20.03,"z":1.78},{"model":2,"band":-2,"x":21.2,"z":3.6},{"model":2,"band":-2,"x":21.94,"z":4.86},{"model":2,"band":-2,"x":22.2,"z":5.45},{"model":2,"band":-2,"x":22.44,"z":6.1},{"model":2,"band":-2,"x":22.56,"z":7},{"model":2,"band":-2,"x":22.56,"z":8},{"model":2,"band":-2,"x":22.73,"z":8},
{"model":3,"band":-1,"x":3.89,"z":8},{"model":3,"band":-1,"x":4,"z":8},{"model":3,"band":-1,"x":4,"z":9.8},{"model":3,"band":-1,"x":4.22,"z":10.95},{"model":3,"band":-1,"x":4.6,"z":11.6},{"model":3,"band":-1,"x":4.92,"z":12.1},{"model":3,"band":-1,"x":5.33,"z":12.6},{"model":3,"band":-1,"x":5.83,"z":13},{"model":3,"band":-1,"x":6.33,"z":13.35},{"model":3,"band":-1,"x":7.16,"z":13.85},{"model":3,"band":-1,"x":7.91,"z":14.35},{"model":3,"band":-1,"x":8.74,"z":14.95},{"model":3,"band":-1,"x":9.57,"z":15.45},{"model":3,"band":-1,"x":10.4,"z":15.87},{"model":3,"band":-1,"x":11.9,"z":16.08},{"model":3,"band":-1,"x":14.55,"z":16.12},{"model":3,"band":-1,"x":16.05,"z":15.87},{"model":3,"band":-1,"x":17.38,"z":15.53},{"model":3,"band":-1,"x":19.04,"z":15.15},{"model":3,"band":-1,"x":19.7,"z":14.6},{"model":3,"band":-1,"x":20.53,"z":13.78},{"model":3,"band":-1,"x":21.28,"z":12.78},{"model":3,"band":-1,"x":21.94,"z":11.61},{"model":3,"band":-1,"x":22.44,"z":10.95},{"model":3,"band":-1,"x":22.56,"z":9.95},{"model":3,"band":-1,"x":22.56,"z":8},{"model":3,"band":-1,"x":22.73,"z":8},
{"model":3,"band":-2,"x":3.89,"z":8},{"model":3,"band":-2,"x":4,"z":8},{"model":3,"band":-2,"x":4,"z":6.1},{"model":3,"band":-2,"x":4.17,"z":5.4},{"model":3,"band":-2,"x":5.08,"z":3.95},{"model":3,"band":-2,"x":6.08,"z":2.7},{"model":3,"band":-2,"x":6.91,"z":1.7},{"model":3,"band":-2,"x":7.74,"z":1.1},{"model":3,"band":-2,"x":9.4,"z":0.4},{"model":3,"band":-2,"x":10.57,"z":0.15},{"model":3,"band":-2,"x":16.38,"z":0.2},{"model":3,"band":-2,"x":17.71,"z":0.53},{"model":3,"band":-2,"x":19.04,"z":1.03},{"model":3,"band":-2,"x":20.03,"z":1.78},{"model":3,"band":-2,"x":21.2,"z":3.6},{"model":3,"band":-2,"x":21.94,"z":4.86},{"model":3,"band":-2,"x":22.2,"z":5.45},{"model":3,"band":-2,"x":22.44,"z":6.1},{"model":3,"band":-2,"x":22.56,"z":7},{"model":3,"band":-2,"x":22.56,"z":8},{"model":3,"band":-2,"x":22.73,"z":8},
{"model":4,"band":-1,"x":3.89,"z":8},{"model":4,"band":-1,"x":4,"z":8},{"model":4,"band":-1,"x":4,"z":9.8},{"model":4,"band":-1,"x":4.22,"z":10.95},{"model":4,"band":-1,"x":4.6,"z":11.6},{"model":4,"band":-1,"x":4.92,"z":12.1},{"model":4,"band":-1,"x":5.33,"z":12.6},{"model":4,"band":-1,"x":5.83,"z":13},{"model":4,"band":-1,"x":6.33,"z":13.35},{"model":4,"band":-1,"x":7.16,"z":13.85},{"model":4,"band":-1,"x":7.91,"z":14.35},{"model":4,"band":-1,"x":8.74,"z":14.95},{"model":4,"band":-1,"x":9.57,"z":15.45},{"model":4,"band":-1,"x":10.4,"z":15.87},{"model":4,"band":-1,"x":11.9,"z":16.08},{"model":4,"band":-1,"x":14.55,"z":16.12},{"model":4,"band":-1,"x":16.05,"z":15.87},{"model":4,"band":-1,"x":17.38,"z":15.53},{"model":4,"band":-1,"x":19.04,"z":15.15},{"model":4,"band":-1,"x":19.7,"z":14.6},{"model":4,"band":-1,"x":20.53,"z":13.78},{"model":4,"band":-1,"x":21.28,"z":12.78},{"model":4,"band":-1,"x":21.94,"z":11.61},{"model":4,"band":-1,"x":22.44,"z":10.95},{"model":4,"band":-1,"x":22.56,"z":9.95},{"model":4,"band":-1,"x":22.56,"z":8},{"model":4,"band":-1,"x":22.73,"z":8},
{"model":4,"band":-2,"x":3.89,"z":8},{"model":4,"band":-2,"x":4,"z":8},{"model":4,"band":-2,"x":4,"z":6.1},{"model":4,"band":-2,"x":4.17,"z":5.4},{"model":4,"band":-2,"x":5.08,"z":3.95},{"model":4,"band":-2,"x":6.08,"z":2.7},{"model":4,"band":-2,"x":6.91,"z":1.7},{"model":4,"band":-2,"x":7.74,"z":1.1},{"model":4,"band":-2,"x":9.4,"z":0.4},{"model":4,"band":-2,"x":10.57,"z":0.15},{"model":4,"band":-2,"x":16.38,"z":0.2},{"model":4,"band":-2,"x":17.71,"z":0.53},{"model":4,"band":-2,"x":19.04,"z":1.03},{"model":4,"band":-2,"x":20.03,"z":1.78},{"model":4,"band":-2,"x":21.2,"z":3.6},{"model":4,"band":-2,"x":21.94,"z":4.86},{"model":4,"band":-2,"x":22.2,"z":5.45},{"model":4,"band":-2,"x":22.44,"z":6.1},{"model":4,"band":-2,"x":22.56,"z":7},{"model":4,"band":-2,"x":22.56,"z":8},{"model":4,"band":-2,"x":22.73,"z":8}
]},"spacing":1011,"bounds":"flush","hconcat":[{"data":{"name":"maps"},"columns":2,"spacing":{"column":209,"row":127},"bounds":"flush","resolve":{"axis":{"x":"independent","y":"independent"}},"facet":{"field":"model","type":"nominal","header":{"title":null,"labelFontSize":22,"labelColor":"#111","labelPadding":11,"labelExpr":"'Model '+datum.value"}},"spec":{"width":378,"height":319,"encoding":{"x":{"field":"x","type":"quantitative","scale":{"domain":[3.89,22.73],"nice":false},"axis":{"title":"x (cm)","values":[5,10,15,20],"grid":true,"gridDash":[1,3],"gridColor":"#000","gridOpacity":0.75,"zindex":1,"tickSize":-5,"tickColor":"#333","labelPadding":13,"titlePadding":4}},"y":{"field":"z","type":"quantitative","scale":{"domain":[0.13,16.12],"nice":false},"axis":{"title":"z (cm)","values":[5,10,15],"grid":true,"gridDash":[1,3],"gridColor":"#000","gridOpacity":0.75,"zindex":1,"tickSize":-5,"tickColor":"#333","labelPadding":10,"titlePadding":6}}},"layer":[{"transform":[{"filter":"datum.band>=0"}],"mark":{"type":"area","order":false,"orient":"vertical","stroke":null},"encoding":{"y2":{"datum":16.12},"detail":{"field":"band","type":"nominal"},"color":{"field":"v","type":"quantitative","scale":{"type":"linear","interpolate":"rgb","domain":[-64,-48,-16,0,16,48,64],"range":["#00007f","#0000ff","#00ffff","#7fff7f","#ffff00","#ff0000","#7f0000"]},"legend":null}}},{"transform":[{"filter":"datum.band>=1"}],"mark":{"type":"line","order":false,"stroke":"#1c2b2b","strokeWidth":1.2,"strokeOpacity":0.85},"encoding":{"detail":{"field":"band","type":"nominal"}}},{"transform":[{"filter":"datum.band==-1"}],"mark":{"type":"area","order":false,"orient":"vertical","fill":"white"},"encoding":{"y2":{"datum":16.12}}},{"transform":[{"filter":"datum.band==-2"}],"mark":{"type":"area","order":false,"orient":"vertical","fill":"white"},"encoding":{"y2":{"datum":0.13}}},{"transform":[{"filter":"(datum.band==-1||datum.band==-2)&&datum.x>=4&&datum.x<=22.56"}],"mark":{"type":"line","order":false,"stroke":"#222","strokeWidth":1},"encoding":{"detail":{"field":"band","type":"nominal"}}},{"transform":[{"filter":"datum.band==-3"}],"mark":{"type":"line","order":false,"stroke":"#444","strokeWidth":1.2},"encoding":{}},{"transform":[{"filter":"datum.band==-4"}],"mark":{"type":"rule","stroke":"#111","strokeWidth":1},"encoding":{"x":{"field":"x0","type":"quantitative"},"y":{"field":"z0","type":"quantitative"},"x2":{"field":"x1"},"y2":{"field":"z1"}}},{"transform":[{"filter":"datum.band==-4"},{"calculate":"atan2(datum.z0-datum.z1,datum.x1-datum.x0)*180/PI","as":"heading"}],"mark":{"type":"point","filled":true,"fill":"#000","opacity":1,"size":700,"shape":"M0,0L-1,-0.3L-0.75,0L-1,0.3Z"},"encoding":{"x":{"field":"x1","type":"quantitative"},"y":{"field":"z1","type":"quantitative"},"angle":{"field":"heading","type":"quantitative","scale":null}}},{"transform":[{"filter":"datum.band==-4"}],"mark":{"type":"text","fontSize":21,"color":"#111"},"encoding":{"x":{"field":"tx","type":"quantitative"},"y":{"field":"tz","type":"quantitative"},"text":{"field":"label"}}}]}},{"spacing":0,"bounds":"flush","vconcat":[{"width":31,"height":444,"data":{"values":[{"a":1}]},"mark":{"type":"point","opacity":0},"encoding":{}},{"width":31,"height":322,"data":{"name":"bar"},"layer":[{"mark":{"type":"rect","strokeWidth":0.6},"encoding":{"y":{"bin":{"step":2},"field":"v","type":"quantitative","scale":{"domain":[-64,64],"nice":false},"axis":{"orient":"right","title":null,"values":[-60,-40,-20,0,20,40,60],"tickSize":-4,"tickColor":"#333","labelPadding":7,"labelFontSize":21,"labelExpr":"''+datum.value"}},"color":{"field":"v","type":"quantitative","scale":{"type":"linear","interpolate":"rgb","domain":[-64,-48,-16,0,16,48,64],"range":["#00007f","#0000ff","#00ffff","#7fff7f","#ffff00","#ff0000","#7f0000"]},"legend":null},"stroke":{"field":"v","type":"quantitative","scale":{"type":"linear","interpolate":"rgb","domain":[-64,-48,-16,0,16,48,64],"range":["#00007f","#0000ff","#00ffff","#7fff7f","#ffff00","#ff0000","#7f0000"]},"legend":null}}},{"data":{"values":[{"a":1}]},"mark":{"type":"rect","fill":null,"stroke":"#444","strokeWidth":1.2},"encoding":{"y":{"datum":-64},"y2":{"datum":64}}}]}]}]}
